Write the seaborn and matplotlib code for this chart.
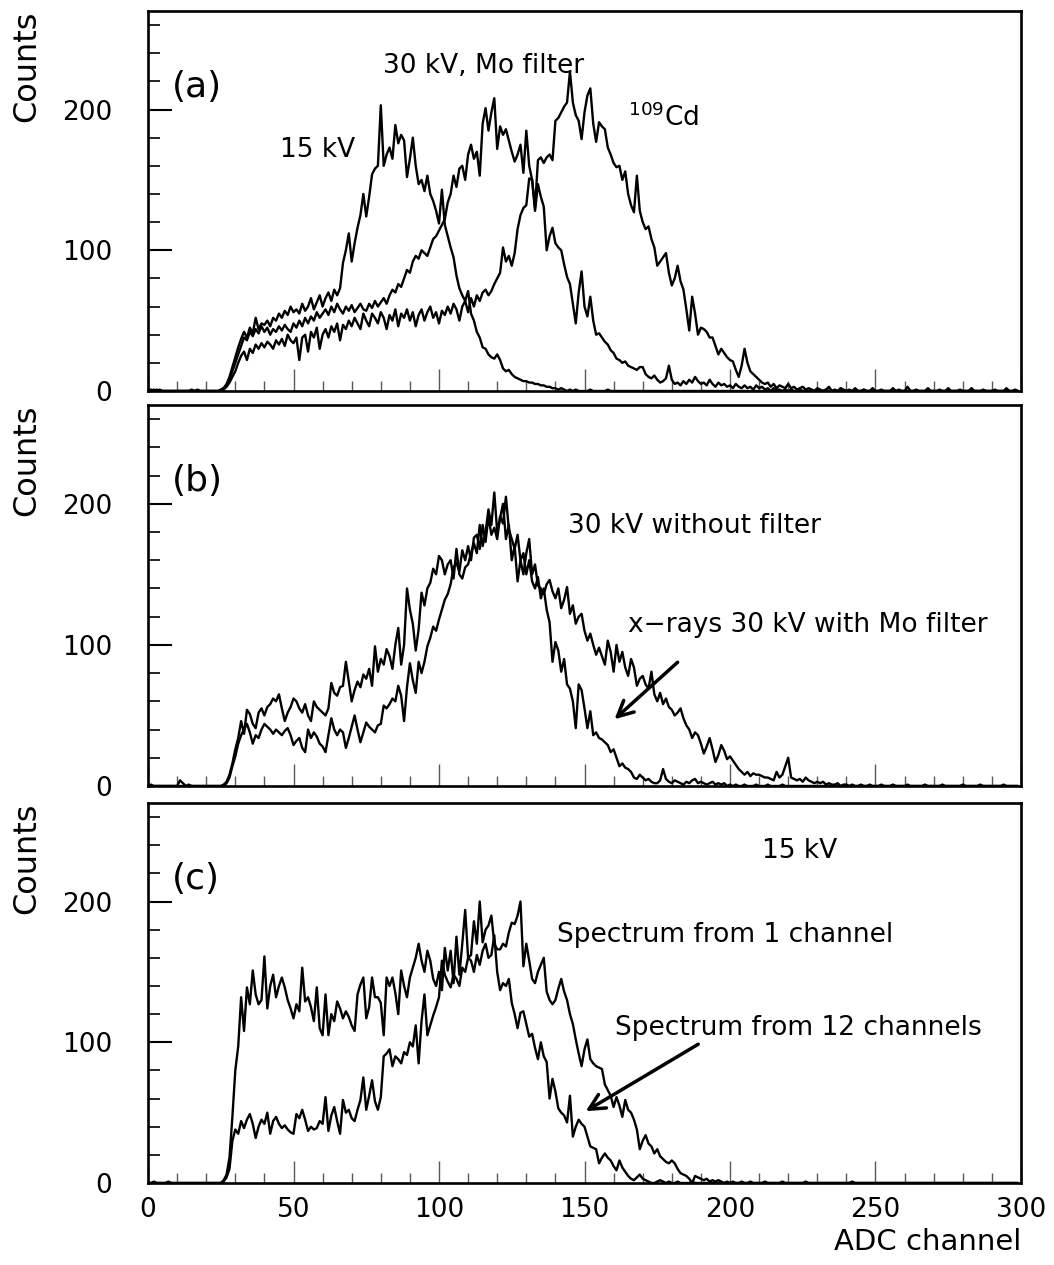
import numpy as np
import pandas as pd
import matplotlib
matplotlib.use("Agg")
import matplotlib.pyplot as plt
import seaborn as sns

sns.set_theme(style="white")
plt.rcParams['font.family'] = ['DejaVu Sans']
plt.rcParams['text.color'] = 'black'
plt.rcParams['axes.labelcolor'] = 'black'
plt.rcParams['xtick.labelcolor'] = 'black'
plt.rcParams['ytick.labelcolor'] = 'black'

CHANNELS = list(range(300))

# ---------------- panel (a) ----------------
A_15KV = [
    1, 1, 0, 0, 1, 0, 0, 0, 0, 0,
    0, 0, 0, 0, 0, 1, 0, 1, 0, 0,
    0, 0, 0, 0, 0, 1, 2, 5, 10, 17,
    24, 31, 37, 42, 38, 45, 41, 52, 44, 48,
    47, 50, 46, 52, 50, 55, 52, 57, 54, 60,
    56, 58, 55, 62, 57, 60, 66, 58, 63, 68,
    60, 66, 70, 64, 72, 68, 73, 91, 100, 112,
    92, 105, 116, 125, 140, 124, 138, 154, 158, 160,
    203, 160, 168, 173, 165, 189, 176, 182, 178, 152,
    165, 180, 160, 147, 150, 142, 153, 140, 135, 128,
    119, 143, 118, 110, 102, 95, 82, 73, 68, 64,
    71, 55, 50, 42, 38, 31, 30, 26, 24, 23,
    26, 22, 16, 14, 15, 12, 10, 9, 8, 7,
    7, 6, 6, 5, 5, 4, 4, 3, 3, 2,
    2, 1, 2, 1, 0, 1, 0, 1, 0, 0,
    0, 0, 1, 0, 0, 0, 0, 0, 1, 0,
    0, 0, 0, 0, 0, 0, 0, 0, 0, 0,
    0, 0, 0, 0, 0, 0, 0, 0, 0, 0,
    0, 0, 0, 0, 0, 0, 0, 0, 0, 0,
    0, 0, 0, 0, 0, 0, 0, 0, 0, 0,
    0, 0, 0, 0, 0, 0, 0, 0, 0, 0,
    0, 0, 0, 0, 0, 0, 0, 0, 0, 0,
    0, 0, 0, 0, 0, 0, 0, 0, 0, 0,
    0, 0, 0, 0, 0, 0, 0, 0, 0, 0,
    0, 0, 0, 0, 0, 0, 0, 0, 0, 0,
    0, 0, 0, 0, 0, 0, 0, 0, 0, 0,
    0, 0, 0, 0, 0, 0, 0, 0, 0, 0,
    0, 0, 0, 0, 0, 0, 0, 0, 0, 0,
    0, 0, 0, 0, 0, 0, 0, 0, 0, 0,
    0, 0, 0, 0, 0, 0, 0, 0, 0, 0,
]

A_30KV_MO = [
    0, 0, 1, 0, 0, 0, 0, 0, 0, 0,
    0, 0, 0, 0, 0, 0, 0, 0, 0, 0,
    0, 0, 0, 0, 0, 0, 2, 4, 8, 14,
    20, 26, 32, 38, 36, 42, 39, 44, 41, 46,
    42, 45, 40, 44, 42, 46, 43, 47, 44, 42,
    48, 45, 50, 46, 52, 48, 53, 50, 56, 52,
    55, 58, 54, 60, 56, 62, 58, 55, 60, 57,
    61, 56, 59, 62, 58, 57, 62, 59, 64, 60,
    63, 66, 62, 68, 72, 70, 76, 74, 80, 86,
    84, 92, 96, 94, 100, 98, 96, 102, 108, 110,
    114, 118, 122, 134, 140, 153, 145, 158, 160, 150,
    168, 175, 165, 170, 153, 190, 201, 185, 198, 208,
    172, 188, 182, 186, 178, 170, 163, 168, 175, 155,
    185, 160, 150, 128, 147, 138, 131, 100, 110, 116,
    105, 102, 100, 90, 81, 76, 62, 48, 70, 85,
    60, 53, 67, 50, 40, 41, 38, 35, 33, 29,
    27, 23, 22, 20, 21, 18, 17, 16, 15, 17,
    17, 12, 10, 9, 11, 8, 6, 7, 9, 18,
    8, 5, 6, 4, 7, 5, 8, 6, 10, 7,
    5, 6, 4, 8, 5, 3, 6, 4, 5, 3,
    4, 2, 5, 3, 2, 4, 2, 3, 1, 4,
    2, 3, 1, 2, 0, 2, 1, 1, 0, 1,
    0, 1, 0, 0, 1, 0, 0, 0, 1, 0,
    0, 0, 0, 1, 0, 0, 0, 0, 0, 0,
    0, 0, 0, 0, 0, 0, 1, 0, 0, 0,
    0, 0, 0, 0, 0, 0, 0, 0, 0, 0,
    0, 0, 0, 0, 0, 0, 0, 0, 0, 0,
    0, 0, 0, 0, 0, 0, 0, 0, 0, 0,
    0, 0, 0, 0, 0, 0, 0, 0, 0, 0,
    0, 0, 0, 0, 0, 0, 0, 0, 0, 0,
]

A_CD109 = [
    0, 0, 0, 1, 0, 0, 0, 0, 0, 0,
    0, 0, 0, 0, 0, 0, 0, 0, 0, 0,
    0, 0, 0, 0, 0, 0, 1, 3, 6, 10,
    14, 20, 25, 28, 22, 30, 27, 33, 30, 34,
    31, 35, 33, 30, 36, 33, 37, 32, 40, 36,
    34, 38, 22, 38, 40, 28, 42, 38, 45, 30,
    40, 44, 38, 46, 42, 48, 36, 47, 44, 50,
    46, 52, 48, 44, 55, 50, 46, 55, 52, 48,
    56, 52, 44, 54, 50, 58, 46, 55, 52, 58,
    50, 56, 46, 54, 58, 50, 56, 60, 52, 56,
    48, 57, 54, 60, 55, 62, 58, 50, 60, 64,
    56, 66, 60, 68, 64, 70, 72, 68, 71, 76,
    80, 84, 102, 92, 96, 89, 98, 115, 125, 130,
    132, 151, 150, 130, 164, 166, 162, 166, 168, 164,
    192, 194, 198, 202, 205, 227, 205, 196, 192, 179,
    198, 210, 215, 190, 177, 191, 188, 186, 173, 168,
    162, 159, 160, 150, 156, 140, 132, 127, 153, 128,
    120, 115, 117, 108, 102, 89, 92, 95, 98, 84,
    75, 80, 89, 78, 72, 58, 43, 67, 55, 40,
    45, 44, 42, 38, 38, 32, 26, 30, 27, 24,
    22, 21, 15, 10, 18, 30, 20, 14, 12, 10,
    8, 6, 5, 6, 3, 5, 2, 4, 3, 2,
    5, 2, 3, 1, 2, 3, 1, 2, 1, 0,
    2, 1, 0, 1, 3, 0, 1, 0, 2, 1,
    0, 1, 0, 2, 0, 0, 1, 0, 0, 2,
    0, 0, 1, 0, 0, 0, 2, 0, 1, 0,
    0, 3, 0, 0, 1, 0, 0, 0, 2, 0,
    0, 0, 1, 0, 0, 2, 0, 0, 0, 1,
    0, 0, 0, 2, 0, 0, 0, 1, 0, 0,
    0, 1, 0, 0, 0, 2, 0, 0, 1, 0,
]

# ---------------- panel (b) ----------------
B_NO_FILTER = [
    0, 1, 0, 0, 0, 0, 0, 0, 0, 0,
    0, 4, 2, 0, 0, 0, 0, 0, 0, 0,
    0, 0, 0, 0, 0, 0, 1, 3, 8, 16,
    26, 34, 46, 37, 54, 51, 44, 41, 52, 55,
    50, 56, 58, 62, 60, 65, 55, 46, 52, 56,
    62, 60, 55, 52, 58, 50, 46, 60, 56, 54,
    52, 50, 55, 73, 66, 64, 70, 71, 88, 74,
    60, 68, 74, 70, 79, 76, 83, 71, 99, 81,
    90, 86, 97, 92, 83, 100, 112, 86, 100, 140,
    125, 115, 96, 111, 137, 128, 140, 144, 154, 150,
    163, 160, 150, 157, 160, 147, 168, 150, 147, 155,
    157, 165, 172, 165, 185, 170, 180, 196, 185, 208,
    180, 190, 200, 175, 185, 160, 170, 145, 160, 150,
    165, 175, 150, 157, 142, 140, 136, 143, 146, 138,
    133, 140, 126, 132, 141, 122, 128, 115, 120, 122,
    110, 103, 108, 100, 93, 98, 92, 86, 103, 95,
    81, 100, 88, 95, 84, 78, 90, 84, 71, 76,
    78, 72, 69, 81, 65, 60, 66, 58, 62, 56,
    54, 50, 52, 55, 48, 43, 40, 34, 38, 36,
    30, 23, 28, 34, 26, 17, 22, 29, 25, 19,
    21, 18, 15, 12, 10, 8, 10, 7, 9, 8,
    8, 7, 6, 6, 5, 4, 10, 6, 8, 14,
    20, 6, 5, 4, 5, 3, 6, 4, 3, 2,
    3, 2, 3, 1, 2, 1, 1, 2, 0, 1,
    1, 0, 1, 0, 0, 1, 0, 0, 1, 0,
    0, 0, 1, 0, 0, 0, 1, 0, 0, 0,
    0, 1, 0, 0, 0, 0, 0, 1, 0, 0,
    0, 0, 0, 1, 0, 0, 0, 0, 0, 0,
    1, 0, 0, 0, 0, 0, 1, 0, 0, 0,
    0, 0, 0, 0, 1, 0, 0, 0, 0, 0,
]

B_MO_FILTER = [
    0, 0, 0, 0, 0, 0, 0, 0, 0, 0,
    0, 0, 0, 0, 1, 0, 0, 0, 0, 0,
    0, 0, 0, 0, 0, 0, 0, 2, 6, 14,
    21, 30, 36, 40, 44, 38, 30, 36, 34, 40,
    44, 42, 40, 37, 40, 38, 36, 39, 41, 36,
    29, 32, 34, 27, 24, 40, 34, 38, 35, 30,
    28, 24, 36, 48, 40, 36, 40, 38, 27, 34,
    42, 50, 40, 31, 38, 45, 42, 40, 38, 43,
    44, 57, 55, 58, 62, 60, 71, 64, 46, 70,
    87, 75, 66, 88, 80, 88, 99, 105, 113, 110,
    118, 125, 132, 136, 143, 155, 158, 152, 167, 160,
    170, 160, 176, 178, 168, 185, 173, 191, 178, 183,
    175, 191, 186, 205, 182, 175, 168, 178, 160, 165,
    150, 160, 145, 140, 148, 133, 140, 125, 116, 88,
    102, 96, 81, 90, 72, 69, 60, 41, 72, 68,
    55, 41, 53, 36, 38, 34, 33, 31, 29, 24,
    26, 20, 14, 16, 13, 12, 10, 6, 5, 8,
    6, 4, 5, 3, 2, 2, 4, 12, 5, 3,
    2, 4, 3, 2, 1, 3, 2, 4, 5, 2,
    3, 2, 1, 2, 3, 1, 2, 1, 2, 0,
    1, 0, 1, 0, 0, 1, 0, 0, 0, 1,
    0, 0, 0, 1, 0, 0, 0, 0, 1, 0,
    0, 0, 0, 0, 0, 0, 0, 0, 0, 0,
    0, 0, 0, 0, 0, 0, 0, 0, 0, 0,
    0, 0, 0, 0, 0, 0, 0, 0, 0, 0,
    0, 0, 0, 0, 0, 0, 0, 0, 0, 0,
    0, 0, 0, 0, 0, 0, 0, 0, 0, 0,
    0, 0, 0, 0, 0, 0, 0, 0, 0, 0,
    0, 0, 0, 0, 0, 0, 0, 0, 0, 0,
    0, 0, 0, 0, 0, 0, 0, 0, 0, 0,
]

# ---------------- panel (c) ----------------
C_1CH = [
    0, 0, 1, 0, 0, 0, 0, 1, 0, 0,
    0, 0, 0, 0, 0, 0, 0, 0, 0, 0,
    0, 0, 0, 0, 0, 0, 2, 6, 18, 47,
    80, 97, 132, 108, 139, 127, 151, 134, 127, 130,
    161, 124, 140, 148, 132, 140, 146, 139, 130, 124,
    117, 127, 122, 153, 129, 132, 125, 115, 139, 110,
    105, 134, 105, 120, 115, 129, 124, 117, 122, 118,
    112, 108, 134, 141, 146, 117, 125, 146, 132, 132,
    128, 105, 146, 140, 146, 135, 120, 151, 140, 132,
    146, 153, 160, 170, 158, 150, 165, 158, 145, 140,
    150, 137, 167, 151, 165, 142, 175, 148, 170, 194,
    160, 162, 186, 170, 200, 171, 180, 183, 190, 170,
    166, 166, 170, 168, 178, 185, 184, 190, 200, 154,
    170, 158, 145, 142, 150, 155, 160, 136, 130, 127,
    130, 138, 145, 136, 130, 120, 113, 102, 92, 83,
    95, 102, 88, 85, 83, 82, 81, 70, 66, 62,
    54, 61, 55, 47, 59, 52, 50, 45, 38, 24,
    30, 34, 28, 26, 21, 24, 19, 17, 15, 14,
    16, 14, 10, 7, 6, 5, 3, 0, 5, 4,
    3, 2, 3, 1, 2, 1, 2, 1, 0, 1,
    0, 1, 0, 0, 1, 0, 0, 1, 0, 0,
    0, 0, 1, 0, 0, 0, 0, 0, 1, 0,
    0, 0, 0, 0, 0, 0, 1, 0, 0, 0,
    0, 0, 0, 0, 0, 0, 0, 0, 0, 0,
    0, 0, 1, 0, 0, 0, 0, 0, 0, 0,
    0, 0, 0, 0, 0, 0, 0, 0, 0, 0,
    0, 0, 0, 0, 0, 0, 0, 0, 0, 0,
    0, 0, 0, 0, 0, 0, 0, 0, 0, 0,
    0, 0, 0, 0, 0, 0, 0, 0, 0, 0,
    0, 0, 0, 0, 0, 0, 0, 0, 0, 0,
]

C_12CH = [
    0, 0, 0, 0, 0, 0, 0, 0, 0, 0,
    0, 0, 0, 0, 0, 0, 0, 0, 0, 0,
    0, 0, 0, 0, 0, 0, 1, 4, 10, 30,
    38, 35, 44, 39, 45, 49, 42, 32, 40, 45,
    42, 50, 35, 44, 47, 42, 39, 41, 38, 36,
    35, 49, 46, 52, 45, 37, 40, 38, 39, 44,
    42, 61, 37, 48, 54, 44, 35, 59, 50, 52,
    46, 44, 52, 59, 75, 52, 62, 73, 58, 52,
    61, 90, 92, 95, 83, 90, 88, 85, 93, 91,
    100, 97, 112, 85, 115, 134, 105, 112, 119, 125,
    132, 158, 148, 143, 139, 148, 145, 140, 153, 150,
    160, 158, 150, 162, 155, 165, 170, 160, 162, 176,
    150, 137, 142, 140, 145, 128, 120, 110, 121, 122,
    113, 104, 106, 96, 88, 100, 90, 86, 60, 74,
    65, 53, 50, 48, 43, 62, 33, 40, 45, 42,
    40, 33, 26, 25, 24, 14, 18, 21, 18, 16,
    12, 9, 16, 11, 8, 5, 3, 2, 4, 6,
    3, 2, 1, 0, 0, 1, 2, 1, 0, 1,
    0, 0, 1, 0, 0, 0, 0, 1, 0, 0,
    0, 0, 0, 0, 0, 0, 0, 0, 0, 0,
    0, 0, 0, 0, 0, 0, 0, 0, 0, 0,
    0, 0, 0, 0, 0, 0, 0, 0, 0, 0,
    0, 0, 0, 0, 0, 0, 0, 0, 0, 0,
    0, 0, 0, 0, 0, 0, 0, 0, 0, 0,
    0, 0, 0, 0, 0, 0, 0, 0, 0, 0,
    0, 0, 0, 0, 0, 0, 0, 0, 0, 0,
    0, 0, 0, 0, 0, 0, 0, 0, 0, 0,
    0, 0, 0, 0, 0, 0, 0, 0, 0, 0,
    0, 0, 0, 0, 0, 0, 0, 0, 0, 0,
    0, 0, 0, 0, 0, 0, 0, 0, 0, 0,
]

X_TICKS = [0, 50, 100, 150, 200, 250, 300]
Y_TICKS = [0, 100, 200]

PANELS = [
    ("(a)", [A_15KV, A_30KV_MO, A_CD109]),
    ("(b)", [B_NO_FILTER, B_MO_FILTER]),
    ("(c)", [C_1CH, C_12CH]),
]

W, H = 1054, 1265
fig = plt.figure(figsize=(W / 100, H / 100), dpi=100)

left = 148 / W
width = (1021 - 148) / W
tops_px = [11, 405, 803]
bots_px = [391, 786, 1183]

axes = []
for i, (tag, series) in enumerate(PANELS):
    b = 1 - bots_px[i] / H
    t = 1 - tops_px[i] / H
    ax = fig.add_axes([left, b, width, t - b])
    for s in series:
        df = pd.DataFrame({"channel": CHANNELS, "counts": s})
        sns.lineplot(data=df, x="channel", y="counts", ax=ax, color="black",
                     linewidth=1.7, estimator=None, errorbar=None)
    ax.set_xlim(0, 300)
    ax.set_ylim(0, 270)
    for sp in ax.spines.values():
        sp.set_linewidth(1.9)
        sp.set_color("black")
    ax.set_xticks(X_TICKS)
    ax.set_xticks(list(range(0, 301, 10)), minor=True)
    ax.set_yticks(Y_TICKS)
    ax.set_yticks(list(range(0, 261, 20)), minor=True)
    ax.tick_params(axis="x", which="major", direction="in", length=16, width=1.0,
                   color="0.35", bottom=True, top=False, pad=10, labelsize=19,
                   labelcolor="black")
    ax.tick_params(axis="x", which="minor", direction="in", length=7, width=1.0,
                   color="0.35", bottom=True, top=False)
    ax.tick_params(axis="y", which="major", direction="in", length=17, width=1.5,
                   color="black", left=True, right=False, pad=26, labelsize=19,
                   labelcolor="black")
    ax.tick_params(axis="y", which="minor", direction="in", length=8.5, width=1.2,
                   color="black", left=True, right=False)
    ax.set_ylabel("Counts", fontsize=23, loc="top", labelpad=14, color="black")
    ax.set_xlabel("")
    if i < 2:
        ax.tick_params(axis="x", labelbottom=False)
    ax.text(8.3, 216, tag, fontsize=26, ha="left", va="center", color="black")
    axes.append(ax)

ax_a, ax_b, ax_c = axes

ax_a.text(45.4, 171, "15 kV", fontsize=19, ha="left", va="center", color="black")
ax_a.text(80.8, 231, "30 kV, Mo filter", fontsize=19, ha="left", va="center", color="black")
ax_a.text(164.8, 194, r"$^{109}$Cd", fontsize=19, ha="left", va="center", color="black")

ax_b.text(144.5, 184, "30 kV without filter", fontsize=19, ha="left", va="center", color="black")
ax_b.text(165, 114, "x\u2212rays 30 kV with Mo filter", fontsize=19, ha="left", va="center",
          color="black")
ax_b.annotate("", xy=(159.6, 46), xytext=(182.7, 89),
              arrowprops=dict(arrowstyle="->", lw=2.5, color="black", mutation_scale=28))

ax_c.text(211, 235.6, "15 kV", fontsize=19, ha="left", va="center", color="black")
ax_c.text(140.4, 176, "Spectrum from 1 channel", fontsize=19, ha="left", va="center",
          color="black")
ax_c.text(160.6, 110, "Spectrum from 12 channels", fontsize=19, ha="left", va="center",
          color="black")
ax_c.annotate("", xy=(149.6, 50), xytext=(189.9, 99.6),
              arrowprops=dict(arrowstyle="->", lw=2.5, color="black", mutation_scale=28))

ax_c.set_xlabel("ADC channel", fontsize=21, loc="right", labelpad=4, color="black")

fig.savefig("out.png", dpi=100)
